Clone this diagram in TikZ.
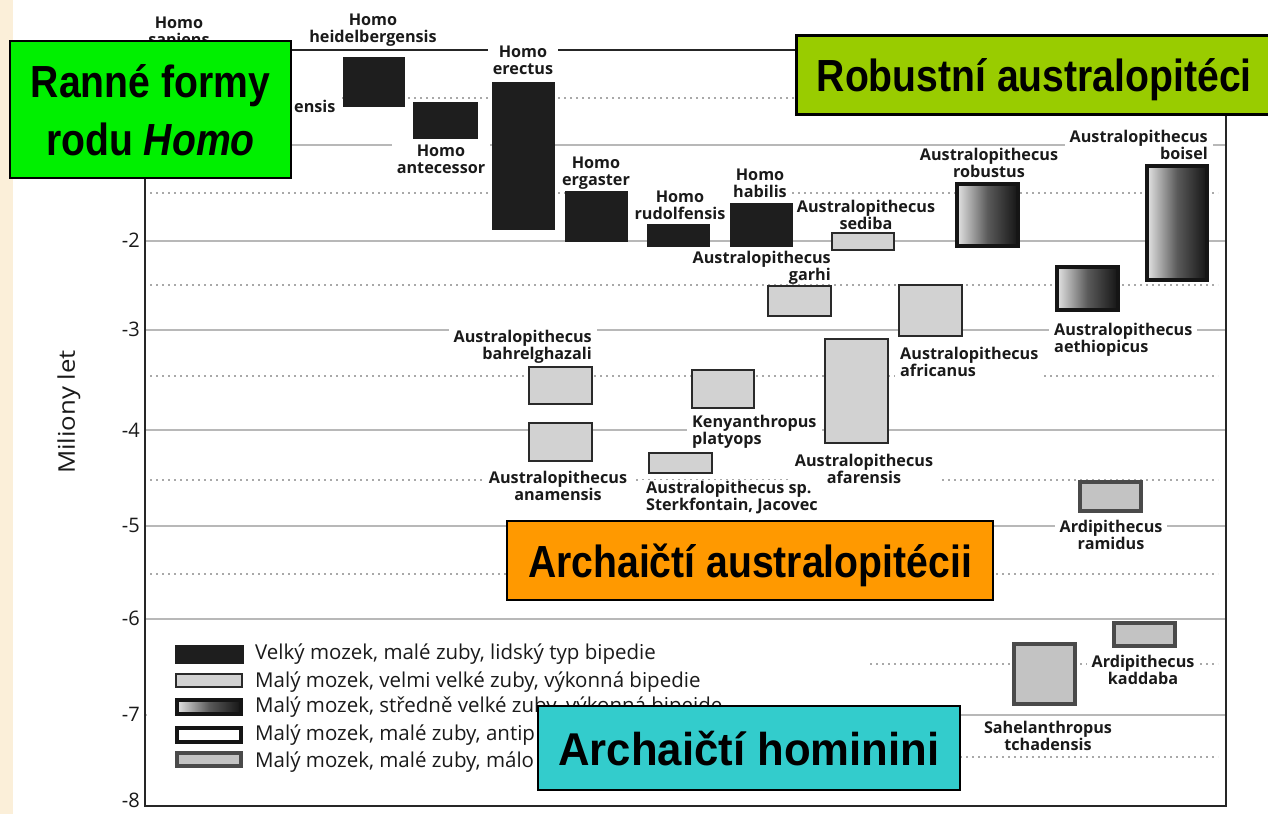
\documentclass[tikz,border=0pt]{standalone}
\usepackage{fontspec}
\setmainfont{Open Sans}
\newfontfamily\catfont[FakeStretch=0.87]{Liberation Sans}
\newfontfamily\catfontw[FakeStretch=0.95]{Liberation Sans}
\newfontfamily\axfont[FakeStretch=1.12]{Open Sans}
\definecolor{gridgray}{HTML}{B8B8B8}
\definecolor{dotgray}{HTML}{A9A9A9}
\definecolor{homofill}{HTML}{1E1E1E}
\definecolor{texfill}{HTML}{D2D2D2}
\definecolor{texborder}{HTML}{2A2A2A}
\definecolor{gradlight}{HTML}{E4E4E4}
\definecolor{gradmid}{HTML}{5A5A5A}
\definecolor{graddark}{HTML}{151515}
\definecolor{ardifill}{HTML}{C3C3C3}
\definecolor{ardiborder}{HTML}{4A4A4A}
\definecolor{labtext}{HTML}{1A1A1A}
\definecolor{greenbox}{HTML}{00F000}
\definecolor{robbox}{HTML}{99CC00}
\definecolor{orangebox}{HTML}{FF9900}
\definecolor{cyanbox}{HTML}{33CCCC}
\definecolor{beige}{HTML}{FBEFD9}
\tikzset{
  gsolid/.style={draw=gridgray, line width=1.6pt},
  gdot/.style={draw=dotgray, line width=1.6pt, dash pattern=on 1.6pt off 4.4pt},
  frame/.style={draw=black!85, line width=2pt},
  labnf/.style={font=\fontsize{16.2}{17.5}\selectfont\bfseries, text=labtext, inner xsep=5pt, inner ysep=1pt, align=center, yshift=-17.5pt},
  lab/.style={labnf, fill=white},
  homobox/.style={fill=homofill, draw=homofill, line width=0.5pt, inner sep=0pt},
  texbox/.style={fill=texfill, draw=texborder, line width=2.2pt, inner sep=0pt},
  gradbox/.style={left color=gradlight, right color=graddark, middle color=gradmid, draw=graddark, line width=4pt, inner sep=0pt},
  whitebox/.style={fill=white, draw=graddark, line width=3.5pt, inner sep=0pt},
  ardibox/.style={fill=ardifill, draw=ardiborder, line width=4pt, inner sep=0pt},
  legtxt/.style={font=\fontsize{20.5}{24}\selectfont, text=labtext, inner sep=0pt},
  ticklab/.style={font=\fontsize{20}{24}\selectfont, text=labtext, inner sep=0pt},
  cat/.style={draw=black, line width=2.5pt, font=\catfont\bfseries\fontsize{45}{58}\selectfont, align=center, text depth=0pt, inner sep=0pt},
}
\newcommand{\spbox}[6]{\node[#2, minimum width={#5-#3}, minimum height={#6-#4}] (#1) at ({(#3+#5)/2},{(#4+#6)/2}) {};}
\begin{document}
\begin{tikzpicture}[x=1pt,y=-1pt]
\useasboundingbox (0,0) rectangle (1268,814);
\fill[white] (0,0) rectangle (1268,814);
\fill[beige] (0,0) rectangle (13,814);
% grid
\foreach \yy in {145,241,330,430,526,619,715} \draw[gsolid] (146,\yy) -- (1225,\yy);
\foreach \yy in {98,193,285,376,480,574,664,757} \draw[gdot] (150,\yy) -- (1218,\yy);
% legend area
\fill[white] (147,623) rectangle (870,804);
% frame
\draw[frame] (145,50) rectangle (1226,806);
% species labels
\node[labnf, anchor=base] (lsap) at (179,28) {Homo\\sapiens};
\node[lab, anchor=base west, text height=26pt, yshift=17.5pt] (lnea) at (289,112) {ensis};
\node[labnf, anchor=base] (lhei) at (373,25) {Homo\\heidelbergensis};
\node[lab, anchor=base] (lant) at (441,156) {Homo\\antecessor};
\node[lab, anchor=base] (lere) at (523,57) {Homo\\erectus};
\node[lab, anchor=base] (lerg) at (596,168) {Homo\\ergaster};
\node[lab, anchor=base] (lrud) at (680,202) {Homo\\rudolfensis};
\node[lab, anchor=base] (lhab) at (760,180) {Homo\\habilis};
\node[lab, anchor=base] (lsed) at (866,212) {Australopithecus\\sediba};
\node[lab, anchor=base east, align=right, text depth=1pt, inner ysep=0pt] (lgar) at (836,263) {Australopithecus\\garhi};
\node[lab, anchor=base] (lrob) at (989,160) {Australopithecus\\robustus};
\node[lab, anchor=base east, align=right] (lboi) at (1213,142) {Australopithecus\\boisel};
\node[lab, anchor=base west, align=left] (laet) at (1049,335) {Australopithecus\\aethiopicus};
\node[lab, anchor=base west, align=left] (lafr) at (895,359) {Australopithecus\\africanus};
\node[lab, anchor=base] (lafa) at (864,466) {Australopithecus\\afarensis};
\node[lab, anchor=base east, align=right] (lbah) at (597,342) {Australopithecus\\bahrelghazali};
\node[lab, anchor=base west, align=left] (lken) at (687,427) {Kenyanthropus\\platyops};
\node[lab, anchor=base] (lana) at (558,483) {Australopithecus\\anamensis};
\node[lab, anchor=base west, align=left] (lste) at (641,493) {Australopithecus sp.\\Sterkfontain, Jacovec};
\node[lab, anchor=base] (lram) at (1111,532) {Ardipithecus\\ramidus};
\node[lab, anchor=base] (lkad) at (1143,667) {Ardipithecus\\kaddaba};
\node[lab, anchor=base] (lsah) at (1048,733) {Sahelanthropus\\tchadensis};
% species boxes
\spbox{bhei}{homobox}{343}{57}{404}{106}
\spbox{bant}{homobox}{413}{102}{477}{138}
\spbox{bere}{homobox}{492}{82}{554}{229}
\spbox{berg}{homobox}{565}{191}{627}{241}
\spbox{brud}{homobox}{647}{224}{709}{246}
\spbox{bhab}{homobox}{730}{203}{792}{246}
\spbox{bsed}{texbox}{832}{233}{894}{250}
\spbox{bgar}{texbox}{768}{286}{831}{316}
\spbox{bafr}{texbox}{899}{285}{962}{336}
\spbox{bafa}{texbox}{825}{339}{888}{443}
\spbox{bbah}{texbox}{529}{367}{592}{404}
\spbox{bken}{texbox}{692}{370}{754}{408}
\spbox{bana}{texbox}{529}{423}{592}{461}
\spbox{bste}{texbox}{649}{453}{712}{473}
\spbox{brob}{gradbox}{957}{184}{1018}{246}
\spbox{bboi}{gradbox}{1147}{166}{1207}{280}
\spbox{baet}{gradbox}{1057}{267}{1118}{310}
\spbox{bram}{ardibox}{1080}{482}{1141}{511}
\spbox{bkad}{ardibox}{1114}{623}{1175}{646}
\spbox{bsah}{ardibox}{1014}{644}{1075}{704}
% legend
\spbox{sw1}{homobox}{175}{645}{243}{663}
\spbox{sw2}{texbox}{176}{674}{242}{687}
\spbox{sw3}{gradbox}{177}{700}{241}{714}
\spbox{sw4}{whitebox}{177}{728}{241}{742}
\spbox{sw5}{ardibox}{177}{753}{241}{766}
\node[legtxt, anchor=base west] (lt1) at (255,659) {Velký mozek, malé zuby, lidský typ bipedie};
\node[legtxt, anchor=base west] (lt2) at (255,687) {Malý mozek, velmi velké zuby, výkonná bipedie};
\node[legtxt, anchor=base west] (lt3) at (255,712) {Malý mozek, středně velké zuby, výkonná bipeide};
\node[legtxt, anchor=base west] (lt4) at (255,740) {Malý mozek, malé zuby, antip};
\node[legtxt, anchor=base west] (lt5) at (255,767) {Malý mozek, malé zuby, málo};
% axis labels
\node[ticklab, anchor=east] (tk2) at (140,240) {-2};
\node[ticklab, anchor=east] (tk3) at (140,329) {-3};
\node[ticklab, anchor=east] (tk4) at (140,430) {-4};
\node[ticklab, anchor=east] (tk5) at (140,525) {-5};
\node[ticklab, anchor=east] (tk6) at (140,618) {-6};
\node[ticklab, anchor=east] (tk7) at (140,714) {-7};
\node[ticklab, anchor=east] (tk8) at (140,800) {-8};
\node[ticklab, font=\axfont\fontsize{23}{26}\selectfont, rotate=90] (ytit) at (69,412) {Miliony let};
% category boxes
\node[cat, fill=greenbox, minimum width=281, minimum height=137] (cH) at (150.5,109.5) {Ranné formy\\rodu \textit{Homo}};
\node[cat, fill=robbox, minimum width=476, minimum height=79, anchor=north west] (cR) at (795,34) {Robustní australopitéci};
\node[cat, fill=orangebox, minimum width=486, minimum height=79] (cA) at (750,560.5) {Archaičtí australopitécii};
\node[cat, fill=cyanbox, minimum width=422, minimum height=84, font=\catfontw\bfseries\fontsize{46}{58}\selectfont] (cHo) at (749,748) {Archaičtí hominini};
\end{tikzpicture}
\end{document}
